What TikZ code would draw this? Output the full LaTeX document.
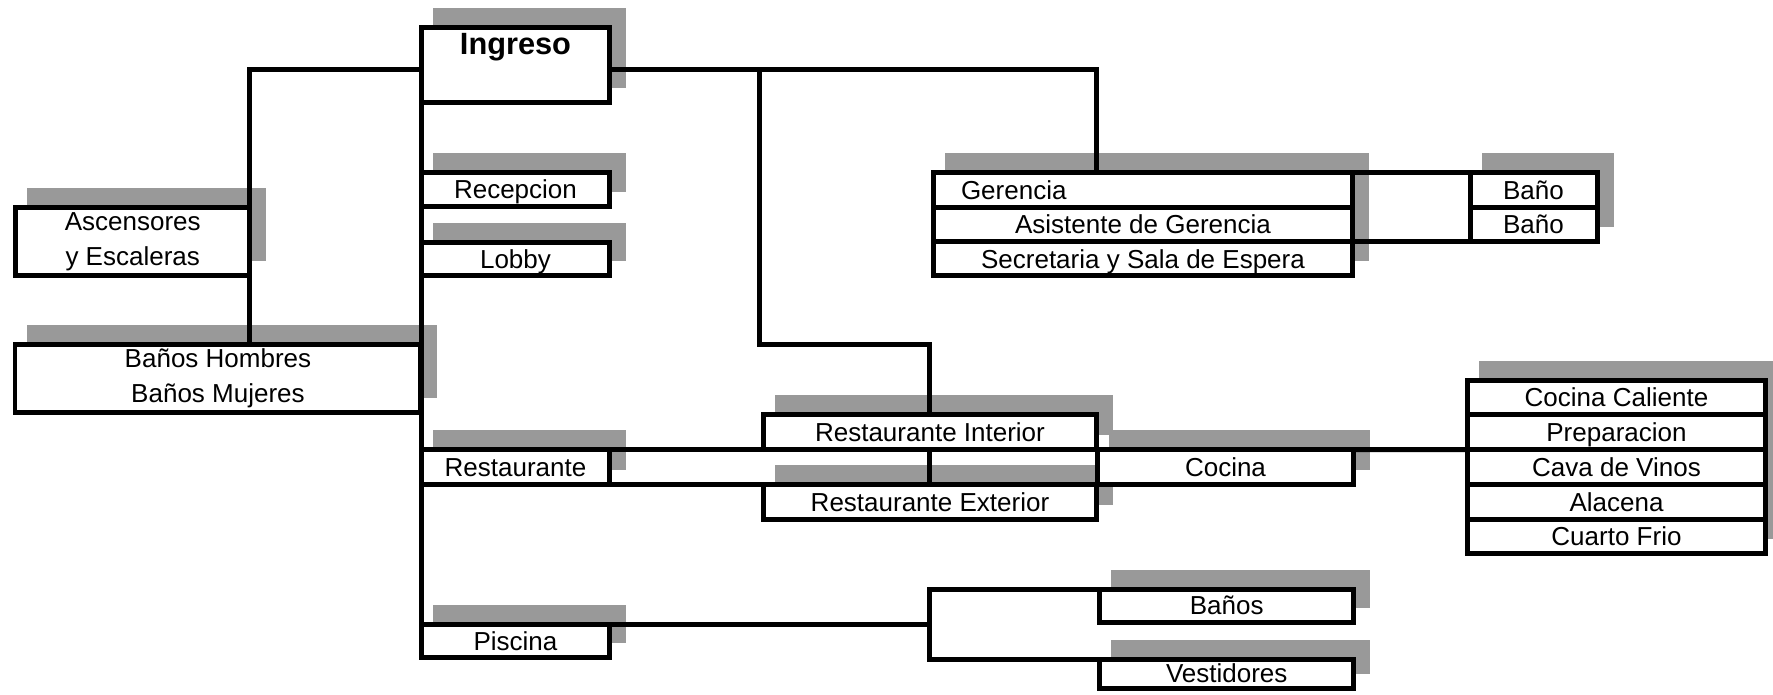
\documentclass[tikz,border=0pt]{standalone}
\usepackage{fontspec}
\setmainfont{Liberation Sans}
\usetikzlibrary{positioning}
\pgfdeclarelayer{shadow}
\pgfdeclarelayer{lines}
\pgfsetlayers{shadow,lines,main}
\definecolor{shadowgray}{RGB}{153,153,153}
\begin{document}
\begin{tikzpicture}[x=0.02cm, y=-0.02cm,
            box/.style = {draw, fill=white, line width=0.1cm, inner sep=0pt, outer sep=0pt,
                anchor=north west, align=center, font=\fontsize{14.8}{19.8}\selectfont},
            row/.style = {box, text height=0.372cm, text depth=0pt, minimum height=#1},
            row/.default = 0.69cm,
            link/.style = {line width=0.1cm}]
            \useasboundingbox (0,0) rectangle (1773,694);
            \node[box, minimum width=3.78cm, minimum height=1.52cm,
                label={[anchor=base, inner sep=0pt, yshift=-0.56cm, font=\bfseries\fontsize{17.5}{20}\selectfont]north:Ingreso}] (ingreso) at (421,27) {};
            \node[row=0.67cm, minimum width=3.78cm] (recep) at (421,172.5) {Recepcion};
            \node[row=0.66cm, minimum width=3.78cm] (lobby) at (421,242.5) {Lobby};
            \node[box, minimum width=4.69cm, minimum height=1.36cm] (asc) at (15.5,207.5) {Ascensores\\y Escaleras};
            \node[box, minimum width=8.12cm, minimum height=1.36cm] (banosHM) at (15,344.5) {Baños Hombres\\Baños Mujeres};
            \node[row=0.7cm, minimum width=3.78cm] (rest) at (421,449.5) {Restaurante};
            \node[row=0.7cm, minimum width=6.68cm] (resInt) at (763,414.5) {Restaurante Interior};
            \node[row, minimum width=6.68cm] (resExt) at (763,484.5) {Restaurante Exterior};
            \node[row=0.7cm, minimum width=5.14cm] (cocina) at (1097,449.5) {Cocina};
            \node[row, inner xsep=0.55cm, text width=7.28cm, align=left] (ger) at (933.5,172.5) {Gerencia};
            \node[row, minimum width=8.38cm, below=0pt of ger] (asis) {Asistente de Gerencia};
            \node[row, minimum width=8.38cm, below=0pt of asis] (secr) {Secretaria y Sala de Espera};
            \node[row, minimum width=2.54cm] (bano1) at (1470,172.5) {Baño};
            \node[row, minimum width=2.54cm, below=0pt of bano1] (bano2) {Baño};
            \node[row=0.696cm, minimum width=5.96cm] (caliente) at (1467.5,380) {Cocina Caliente};
            \node[row=0.696cm, minimum width=5.96cm, below=0pt of caliente] (prep) {Preparacion};
            \node[row=0.696cm, minimum width=5.96cm, below=0pt of prep] (cava) {Cava de Vinos};
            \node[row=0.696cm, minimum width=5.96cm, below=0pt of cava] (alacena) {Alacena};
            \node[row=0.696cm, minimum width=5.96cm, below=0pt of alacena] (frio) {Cuarto Frio};
            \node[row=0.67cm, minimum width=3.78cm] (pisc) at (421,624) {Piscina};
            \node[row=0.66cm, minimum width=5.09cm] (banos) at (1099.5,589) {Baños};
            \node[row=0.58cm, minimum width=5.09cm] (vest) at (1099.5,659) {Vestidores};
            \coordinate (j1) at (759.5,69.5);
            \coordinate (j2) at (759.5,344.5);
            \coordinate (pj) at (929.5,624);
            \begin{pgfonlayer}{lines}
                \draw[link] ([shift={(0,4.5)}]ingreso.west) -| (asc.east |- banosHM.north);
                \draw[link] ([shift={(0,4.5)}]ingreso.east) -| ([shift={(-46,0)}]ger.north);
                \draw[link] (j1) -- (j2) -| (resExt.north);
                \draw[link] (ingreso.south west) -- (pisc.north west);
                \draw[link] (rest.north east) -- (cocina.north west);
                \draw[link] (rest.south east) -- (cocina.south west);
                \draw[link] (cocina.north east) -- (cava.north west);
                \draw[link] (ger.north east) -- (bano1.north west);
                \draw[link] (asis.south east) -- (bano2.south west);
                \draw[link] (pisc.north east) -- (pj) |- (banos.north west) (pj) |- (vest.north west);
            \end{pgfonlayer}
            \begin{pgfonlayer}{shadow}
                \foreach \n in {ingreso,recep,lobby,asc,banosHM,rest,resInt,resExt,cocina,ger,asis,secr,
                    bano1,bano2,caliente,prep,cava,alacena,frio,pisc,banos,vest}
                    \fill[shadowgray] ([shift={(11.5,-14.5)}]\n.south west) rectangle ([shift={(16.5,-19.5)}]\n.north east);
            \end{pgfonlayer}
        \end{tikzpicture}
\end{document}
